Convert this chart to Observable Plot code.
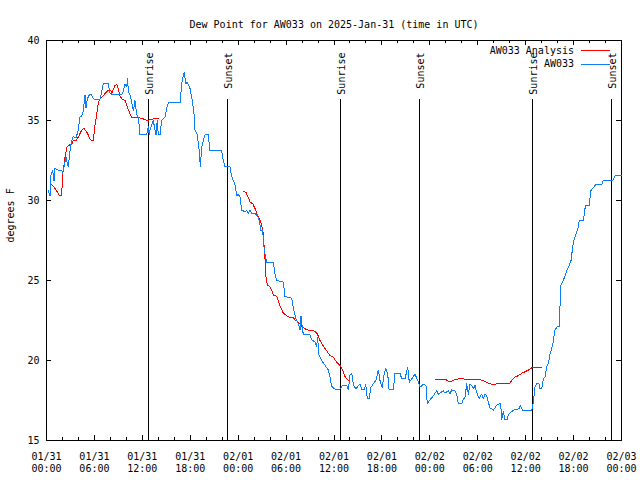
<!DOCTYPE html>
<html>
<head>
<meta charset="utf-8">
<script src="https://cdn.jsdelivr.net/npm/d3@7"></script>
<script src="https://cdn.jsdelivr.net/npm/@observablehq/plot@0.6"></script>
<style>
  html, body { margin: 0; padding: 0; background: white; }
  svg { shape-rendering: crispEdges; }
</style>
</head>
<body>
<div id="chart"></div>
<script>
// ---- data (hours since 2025-01-31 00:00 UTC, dew point °F) ----
const titleText = "Dew Point for AW033 on 2025-Jan-31 (time in UTC)";
const yLabelText = "degrees F";
const seriesNames = ["AW033 Analysis", "AW033"];
const seriesColors = ["#ff0000", "#0a7ff5"];

const analysis = [
  [0.44,31.1],[0.85,30.9],[1.28,30.6],[1.6,30.3],[1.9,30.3],[2.03,31.7],[2.1,31.9],[2.32,32.7],[2.53,33.3],[2.73,33.45],
  [3.15,33.5],[3.36,33.75],[3.69,33.75],[3.98,33.96],[4.41,34.4],[4.7,34.5],[5.03,34.3],[5.45,33.85],[5.66,33.75],[5.86,33.75],
  [6.07,34.7],[6.29,35.4],[6.49,36.15],[6.7,36.35],[7.11,36.55],[7.54,36.8],[7.74,36.9],[8.04,36.9],[8.16,36.7],[8.58,37.2],
  [8.79,37.25],[8.99,37.0],[9.2,36.55],[9.42,36.35],[9.83,36.25],[10.04,35.95],[10.24,35.7],[10.46,35.4],[10.67,35.2],[11.29,35.2],
  [11.71,35.15],[12.12,35.1],[12.55,35.0],[12.96,35.05],[13.37,35.1],[13.59,35.15],[14.0,35.15],
  [19,null],
  [24.65,30.56],[24.98,30.5],[25.27,30.2],[25.48,29.9],[25.82,29.8],[26.11,29.5],[26.32,29.2],[26.52,28.96],[26.73,28.75],[26.94,28.5],
  [27.15,27.9],[27.27,26.98],[27.36,26.35],[27.49,25.2],[27.65,24.73],[27.99,24.6],[28.2,24.4],[28.4,24.1],[28.82,24.0],[29.03,23.75],
  [29.24,23.4],[29.45,23.2],[29.65,22.96],[30.08,22.8],[30.49,22.7],[30.9,22.67],[31.12,22.54],[31.53,22.4],[31.95,22.15],[32.37,21.98],
  [32.78,21.9],[33.62,21.83],[33.91,21.67],[34.25,21.25],[34.66,20.9],[35.09,20.6],[35.5,20.3],[35.91,20.2],[36.34,19.9],[36.75,19.7],
  [37.09,19.4],[37.38,19.0],[37.67,18.8],[37.92,18.75],
  [43,null],
  [48.65,18.8],[50.02,18.8],[50.31,18.7],[50.53,18.67],[51.15,18.8],[51.56,18.85],[52.19,18.85],[53.03,18.8],[54.28,18.8],[54.91,18.69],
  [55.53,18.54],[55.95,18.5],[56.37,18.54],[57.95,18.54],[58.25,18.75],[58.67,18.96],[59.09,19.06],[59.51,19.2],[59.93,19.3],[60.34,19.4],
  [60.76,19.54],[62.01,19.54]
];

const observed = [
  [0.23,30.6],[0.44,30.3],[0.56,31.6],[0.77,31.9],[0.94,31.25],[1.06,32.0],[1.48,31.9],[1.9,31.9],[2.03,31.7],[2.19,32.1],
  [2.44,32.7],[2.61,32.3],[2.73,32.1],[2.94,33.1],[3.15,33.75],[3.36,34.0],[3.69,33.9],[3.98,34.4],[4.19,35.2],[4.41,35.3],
  [4.61,35.6],[4.82,36.6],[4.95,35.8],[5.11,36.35],[5.36,36.6],[5.66,36.6],[5.86,36.35],[6.36,36.3],[6.7,36.35],[6.91,36.8],
  [7.11,37.3],[7.74,37.3],[7.95,36.7],[8.16,36.6],[9.42,36.6],[9.62,36.8],[9.83,37.3],[10.04,37.1],[10.17,37.6],[10.24,36.8],
  [10.46,36.6],[10.67,36.15],[10.87,35.6],[11.08,36.25],[11.29,35.4],[11.5,35.2],[11.62,34.6],[11.71,34.1],[12.55,34.1],[12.75,34.6],
  [12.87,34.1],[12.96,34.4],[13.37,35.0],[13.59,34.4],[13.71,34.1],[13.87,35.0],[14.0,34.1],[14.21,34.1],[14.43,35.0],[14.63,35.1],
  [14.84,35.2],[15.05,35.8],[15.25,36.1],[16.72,36.1],[16.93,37.3],[17.13,37.8],[17.26,38.0],[17.43,37.3],[17.63,37.4],[17.88,37.1],
  [17.97,37.0],[18.26,36.25],[18.47,35.4],[18.6,34.4],[18.88,34.1],[19.13,33.1],[19.26,32.1],[19.43,33.3],[19.63,33.75],[19.85,34.1],
  [20.26,34.1],[20.47,33.1],[21.94,33.1],[22.14,32.5],[22.35,32.1],[22.98,32.1],[23.19,31.5],[23.39,31.25],[23.6,31.0],[23.82,30.3],
  [24.02,30.4],[24.23,30.2],[24.44,29.4],[24.86,29.3],[25.07,29.4],[25.27,29.2],[25.48,29.4],[25.69,29.2],[26.11,29.2],[26.52,28.96],
  [26.73,28.5],[26.82,28.1],[27.07,28.1],[27.23,27.1],[27.4,26.5],[27.57,26.15],[28.4,26.15],[28.61,25.4],[28.82,25.0],[29.65,24.9],
  [29.86,24.0],[30.7,23.9],[30.9,23.3],[31.24,22.6],[31.53,22.3],[31.74,21.9],[31.87,22.8],[32.08,21.8],[32.24,21.6],[33.0,21.6],
  [33.2,21.3],[33.62,21.15],[33.83,20.9],[33.96,21.45],[34.08,20.4],[34.46,20.0],[34.87,19.7],[35.29,19.4],[35.5,18.95],[35.71,18.4],
  [36.13,18.2],[36.75,18.2],[37.09,18.45],[37.59,18.45],[37.8,18.2],[38.0,19.1],[38.22,19.2],[38.42,18.5],[38.76,18.2],[39.04,18.45],
  [39.26,18.5],[39.47,18.2],[39.8,18.2],[39.97,18.5],[40.17,17.6],[40.42,17.6],[40.6,18.3],[40.92,18.55],[41.26,18.75],[41.55,19.4],
  [41.76,18.75],[42.05,18.3],[42.26,19.1],[42.47,19.5],[42.72,19.2],[42.89,18.2],[43.43,18.2],[43.64,19.2],[44.27,19.2],[44.48,18.85],
  [44.89,18.85],[45.1,19.3],[45.23,19.55],[45.43,18.65],[45.73,18.85],[46.14,19.15],[46.56,18.65],[46.77,18.33],[47.18,18.5],[47.52,18.44],
  [47.68,17.3],[48.02,17.54],[48.44,17.8],[48.86,18.1],[49.06,17.9],[49.69,18.1],[49.9,17.96],[50.31,18.1],[50.53,17.9],[50.74,18.17],
  [51.15,18.1],[51.36,17.9],[51.56,17.3],[51.99,17.3],[52.19,17.6],[52.4,17.67],[52.62,18.54],[52.82,17.9],[53.03,18.54],[53.24,18.44],
  [53.44,18.23],[53.66,18.44],[53.87,18.0],[54.19,17.6],[54.49,17.9],[54.7,17.6],[54.91,17.9],[55.12,17.8],[55.32,17.4],[55.53,17.04],
  [55.95,16.9],[56.37,17.2],[56.7,17.3],[56.87,17.3],[57.0,16.3],[57.2,16.8],[57.41,16.3],[57.7,16.3],[57.83,16.6],[58.45,16.9],
  [59.2,16.98],[59.3,17.2],[59.63,16.9],[60.76,16.9],[60.96,17.4],[61.17,18.33],[61.38,18.54],[61.67,18.54],[61.8,18.23],[62.0,18.23],
  [62.21,18.85],[62.42,18.96],[62.63,19.6],[62.84,19.8],[63.05,20.4],[63.39,21.0],[63.67,21.9],[63.96,22.1],[64.21,22.1],[64.39,24.7],
  [64.71,25.0],[65.14,25.6],[65.43,25.9],[65.68,26.25],[65.84,26.9],[65.97,27.4],[66.3,27.9],[66.52,28.2],[66.72,28.75],[67.22,28.75],
  [67.43,29.5],[67.56,29.7],[67.97,29.7],[68.15,30.6],[68.47,30.8],[68.77,31.0],[69.52,31.0],[69.72,31.25],[70.9,31.25],[71.19,31.55],
  [72.0,31.55]
];

const sunHours = [12.77, 22.66, 36.81, 46.71, 60.86, 70.75];
const sunLabels = ["Sunrise", "Sunset", "Sunrise", "Sunset", "Sunrise", "Sunset"];

const majorTickHours = [0, 6, 12, 18, 24, 30, 36, 42, 48, 54, 60, 66, 72];
const minorTickHours = [2, 4, 8, 10, 14, 16, 20, 22, 26, 28, 32, 34, 38, 40, 44, 46, 50, 52, 56, 58, 62, 64, 68, 70];
const yTicks = [15, 20, 25, 30, 35, 40];
const xDomainHours = [0, 72];
const yDomain = [15, 40];

// ---- build ----
const t0 = Date.UTC(2025, 0, 31);
const toDate = h => new Date(t0 + h * 3600e3);
const toRows = arr => arr.map(([h, v]) => ({t: toDate(h), v}));
const analysisRows = toRows(analysis);
const observedRows = toRows(observed);
const sunRows = sunHours.map((h, i) => ({t: toDate(h), label: sunLabels[i]}));
const majorDates = majorTickHours.map(toDate);
const minorDates = minorTickHours.map(toDate);

const W = 640, H = 480;
const mL = 46, mR = 19, mT = 40, mB = 40;
const innerH = H - mT - mB, innerW = W - mL - mR;
const major = 5, minor = 3;
const font = "DejaVu Sans Mono, monospace";

const chart = Plot.plot({
  width: W, height: H,
  marginLeft: mL, marginRight: mR, marginTop: mT, marginBottom: mB,
  style: {fontFamily: font, fontSize: "10px", background: "white", color: "black"},
  x: {type: "utc", domain: xDomainHours.map(toDate)},
  y: {domain: yDomain},
  marks: [
    Plot.frame({stroke: "black"}),
    // x ticks (inward, bottom and top)
    Plot.ruleX(majorDates, {x: d => d, insetTop: innerH - major, stroke: "black"}),
    Plot.ruleX(majorDates, {x: d => d, insetBottom: innerH - major, stroke: "black"}),
    Plot.ruleX(minorDates, {x: d => d, insetTop: innerH - minor, stroke: "black"}),
    Plot.ruleX(minorDates, {x: d => d, insetBottom: innerH - minor, stroke: "black"}),
    // y ticks (inward, left and right)
    Plot.ruleY(yTicks, {y: d => d, insetRight: innerW - major, stroke: "black"}),
    Plot.ruleY(yTicks, {y: d => d, insetLeft: innerW - major, stroke: "black"}),
    Plot.axisX({ticks: majorDates, tickFormat: d3.utcFormat("%m/%d\n%H:%M"), tickSize: 0, tickPadding: 11, lineHeight: 1.2, label: null, fontSize: 10}),
    Plot.axisY({ticks: yTicks, tickSize: 0, tickPadding: 7, label: null, fontSize: 10}),
    // sunrise / sunset
    Plot.ruleX(sunRows, {x: "t", insetTop: 59, stroke: "black"}),
    Plot.text(sunRows, {x: "t", text: "label", frameAnchor: "top", dy: 12, dx: -3, rotate: -90, textAnchor: "end", fontSize: 10, fill: "black"}),
    // series
    Plot.line(analysisRows, {x: "t", y: "v", stroke: seriesColors[0], strokeWidth: 1, curve: "linear"}),
    Plot.line(observedRows, {x: "t", y: "v", stroke: seriesColors[1], strokeWidth: 1, curve: "linear"}),
    // title and y label
    Plot.text([titleText], {text: d => d, frameAnchor: "top", dy: -20, fontSize: 10, fill: "black"}),
    Plot.text([yLabelText], {text: d => d, frameAnchor: "left", dx: -36, dy: 2, rotate: -90, fontSize: 10, fill: "black"})
  ]
});

// legend (top right, inside the frame)
const svg = d3.select(chart);
const lg = svg.append("g").attr("font-family", font).attr("font-size", 10);
seriesNames.forEach((name, i) => {
  const yy = 50 + i * 13.5;
  lg.append("text").attr("x", 574).attr("y", yy).attr("dy", "0.35em").attr("text-anchor", "end").attr("fill", "black").text(name);
  lg.append("line").attr("x1", 581).attr("x2", 610).attr("y1", yy + 0.5).attr("y2", yy + 0.5).attr("stroke", seriesColors[i]).attr("stroke-width", 1);
});

document.getElementById("chart").appendChild(chart);
</script>
</body>
</html>
